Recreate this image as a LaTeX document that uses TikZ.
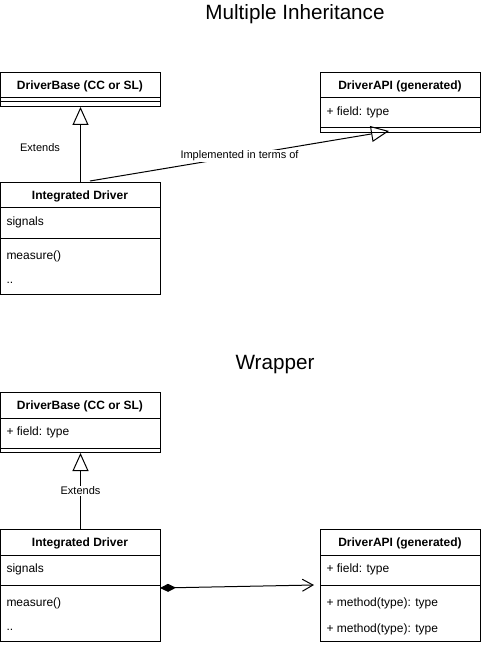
\documentclass[tikz,border=0pt]{standalone}
\usepackage{fontspec}
\setmainfont{Liberation Sans}
\usetikzlibrary{arrows.meta}

\def\boxw{160}

\begin{document}
\begin{tikzpicture}[x=0.75pt, y=-0.75pt, line width=0.75pt]
        \tikzstyle{box}   = [draw, rectangle, anchor=north west, minimum width=\boxw*0.75pt, inner sep=0pt]
        \tikzstyle{head}  = [font=\bfseries\fontsize{9}{11}\selectfont, inner sep=0pt]
        \tikzstyle{item}  = [anchor=west, font=\fontsize{9}{11}\selectfont, inner sep=0pt]
        \tikzstyle{lbl}   = [font=\fontsize{8.25}{10}\selectfont, inner sep=1pt]
        \tikzstyle{title} = [font=\fontsize{15.5}{18}\selectfont, inner sep=0pt]
        \tikzstyle{ext}   = [-{Triangle[open, length=13.5pt, width=12pt]}]
                \useasboundingbox (0,0) rectangle (481,645);

                \node [title](title1) at (295,14.5) {Multiple Inheritance};
                \node [title](title2) at (275,364.5) {Wrapper};

                % class boxes: name / x / y / height / divider / header
                \foreach \n/\x/\y/\h/\d/\t in {base1/0/72/34/30/{DriverBase (CC or SL)},
                        api1/320/72/60/56/{DriverAPI (generated)},
                        int1/0/182/112/56/{Integrated Driver},
                        base2/0/392/60/56/{DriverBase (CC or SL)},
                        int2/0/529/112/56/{Integrated Driver},
                        api2/320/529/112/56/{DriverAPI (generated)}}
                {
                        \node [box, minimum height=\h*0.75pt](\n) at (\x,\y) {};
                        \draw (\n.north west) ++(0,26) -- ++(\boxw,0);
                        \draw (\n.north west) ++(0,\d) -- ++(\boxw,0);
                        \node [head](\n-t) at (\x+80,\y+14.5) {\t};
                }

                \foreach \n/\x/\y/\t in {api1-f/326/112.5/{+ field: type},
                        int1-s/6/222.5/signals, int1-m/6/256.5/measure(), int1-d/6/282.5/..,
                        base2-f/6/432.5/{+ field: type},
                        int2-s/6/569.5/signals, int2-m/6/603.5/measure(), int2-d/6/629.5/..,
                        api2-f/326/569.5/{+ field: type},
                        api2-m1/326/603.5/{+ method(type): type},
                        api2-m2/326/629.5/{+ method(type): type}}
                {
                        \node [item](\n) at (\x,\y) {\t};
                }

                % multiple inheritance
                \draw [ext] (int1.north) -- (base1.south);
                \node [lbl](ext1) at (40,148) {Extends};
                \coordinate (impl-s) at (90,181);
                \coordinate (impl-e) at (389,131);
                \draw [ext] (impl-s) -- node[lbl, fill=white](impl) {Implemented in terms of} (impl-e);

                % wrapper
                \draw [ext] (int2.north) -- node[lbl, fill=white](ext2) {Extends} (base2.south);
                \coordinate (comp-s) at (160,588);
                \coordinate (comp-e) at (314,585);
                \draw [{Diamond[length=12pt, width=6pt]}-{Straight Barb[length=8pt, width=9pt]}] (comp-s) -- (comp-e);
\end{tikzpicture}
\end{document}
